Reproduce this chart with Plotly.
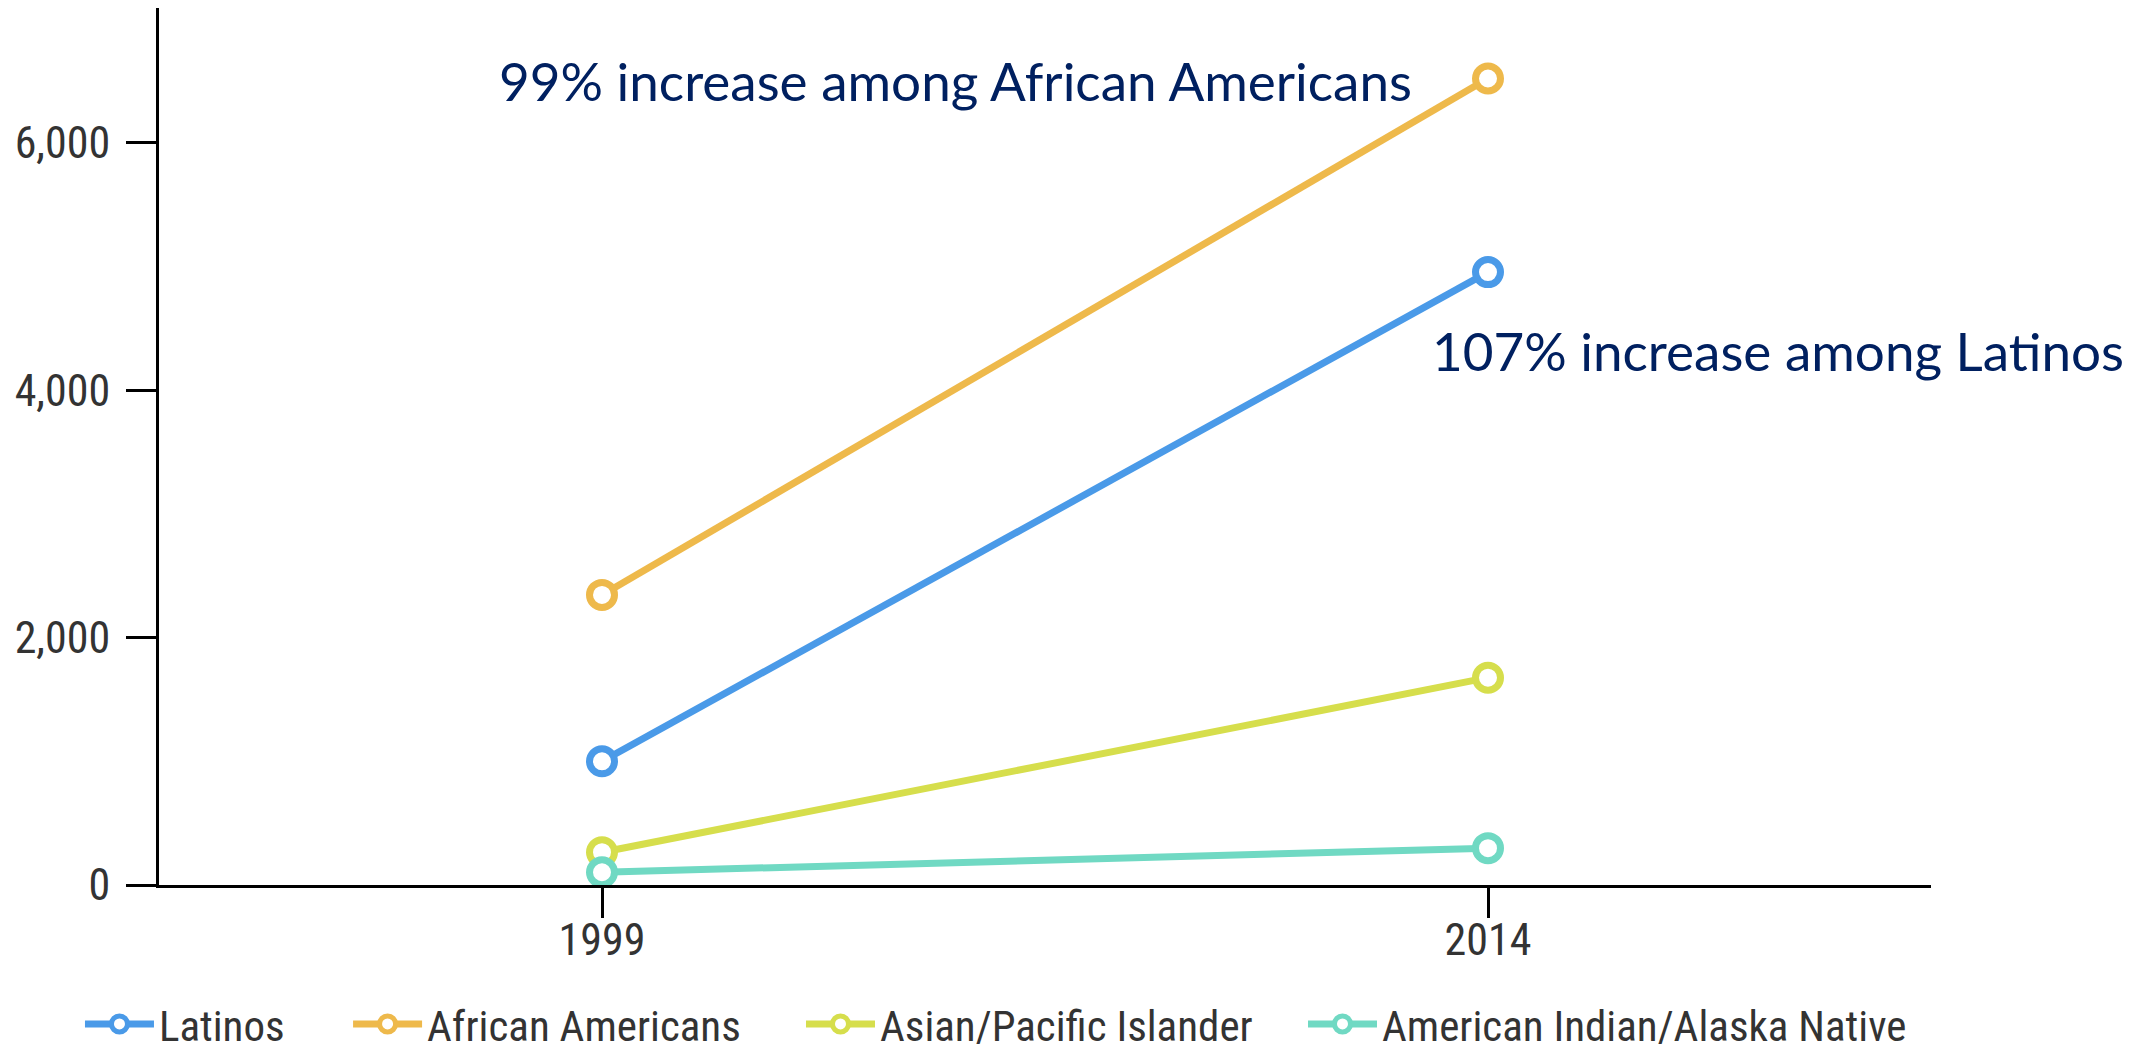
import plotly.graph_objects as go

years = ["1999", "2014"]
series_names = ["Latinos", "African Americans", "Asian/Pacific Islander", "American Indian/Alaska Native"]
latinos = [1000, 4955]
african_americans = [2345, 6520]
asian_pacific = [265, 1676]
american_indian = [103, 298]
colors = ["#4A9AE8", "#EEB94B", "#D6DE4C", "#70D9C3"]
y_ticks = [0, 2000, 4000, 6000]
notes = ["99% increase among African Americans", "107% increase among Latinos"]

values = [latinos, african_americans, asian_pacific, american_indian]
legend_ids = ["legend", "legend2", "legend3", "legend4"]
legend_x = [-0.0446, 0.1067, 0.3623, 0.6456]

tick_font = dict(family="Roboto Condensed, Liberation Sans Narrow, Roboto, sans-serif", size=44, color="#333333")
legend_font = dict(family="Roboto Condensed, Liberation Sans Narrow, Roboto, sans-serif", size=43, color="#333333")

fig = go.Figure()
for name, vals, col, lg in zip(series_names, values, colors, legend_ids):
    fig.add_trace(go.Scatter(
        x=years, y=vals, name=name, mode="lines+markers", legend=lg,
        line=dict(color=col, width=7),
        marker=dict(symbol="circle", size=25, color="white", line=dict(color=col, width=7)),
    ))

legend_common = dict(orientation="h", xanchor="left", y=-0.1585, yanchor="middle",
                     font=legend_font, itemwidth=69, bgcolor="rgba(0,0,0,0)")

fig.update_layout(
    width=2123, height=1044,
    margin=dict(l=151, r=200, t=0, b=167, autoexpand=False),
    paper_bgcolor="white", plot_bgcolor="white",
    showlegend=True,
    xaxis=dict(type="category", range=[-0.5, 1.5], showgrid=False, zeroline=False,
               showline=True, linecolor="black", linewidth=3,
               ticks="outside", ticklen=30, tickwidth=3, tickcolor="black",
               tickfont=tick_font, ticklabelstandoff=-16),
    yaxis=dict(range=[0, 7090], tickvals=y_ticks, tickformat=",", showgrid=False, zeroline=False,
               showline=True, linecolor="black", linewidth=3,
               ticks="outside", ticklen=30, tickwidth=3, tickcolor="black",
               tickfont=tick_font, ticklabelstandoff=7),
)
for lg, lx in zip(legend_ids, legend_x):
    fig.update_layout({lg: dict(legend_common, x=lx)})

fig.add_annotation(text=notes[0], xref="paper", yref="paper", x=0.1905, y=0.9168,
                   xanchor="left", yanchor="middle", showarrow=False,
                   font=dict(family="Lato, Open Sans, sans-serif", size=53, color="#002060"))
fig.add_annotation(text=notes[1], xref="paper", yref="paper", x=0.717, y=0.6089,
                   xanchor="left", yanchor="middle", showarrow=False,
                   font=dict(family="Lato, Open Sans, sans-serif", size=53, color="#002060"))

fig.write_html("out.html")
